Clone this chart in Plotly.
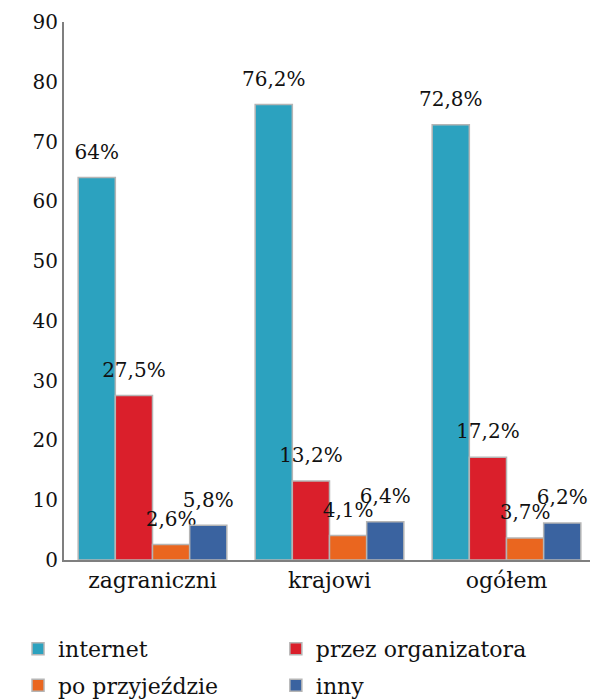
import plotly.graph_objects as go

categories = ["zagraniczni", "krajowi", "ogółem"]
series_names = ["internet", "przez organizatora", "po przyjeździe", "inny"]
internet = [64, 76.2, 72.8]
organizator = [27.5, 13.2, 17.2]
przyjazd = [2.6, 4.1, 3.7]
inny = [5.8, 6.4, 6.2]
labels_internet = ["64%", "76,2%", "72,8%"]
labels_organizator = ["27,5%", "13,2%", "17,2%"]
labels_przyjazd = ["2,6%", "4,1%", "3,7%"]
labels_inny = ["5,8%", "6,4%", "6,2%"]
y_ticks = [0, 10, 20, 30, 40, 50, 60, 70, 80, 90]

colors = ["#2CA2BF", "#DA1F2B", "#EA661F", "#3A63A0"]
legend_ids = ["legend", "legend2", "legend3", "legend4"]
legend_x = [0.017, 0.454, 0.017, 0.454]
legend_y = [0.1027, 0.1027, 0.050, 0.050]
label_gap = 1.8  # gap (in axis units) between bar top and its label
FONT = "DejaVu Serif, serif"

fig = go.Figure()
for i, (name, vals, labs, col, lg) in enumerate(zip(
    series_names,
    [internet, organizator, przyjazd, inny],
    [labels_internet, labels_organizator, labels_przyjazd, labels_inny],
    colors, legend_ids,
)):
    fig.add_trace(go.Bar(
        name=name, x=categories, y=vals, legend=lg, offsetgroup=str(i),
        marker=dict(color=col, line=dict(color="#B5B5B5", width=1.5)),
    ))
    # transparent spacer carrying the value label just above the bar
    fig.add_trace(go.Bar(
        name=name, x=categories, y=[label_gap] * len(vals), base=vals,
        offsetgroup=str(i), showlegend=False, hoverinfo="skip",
        text=labs, textposition="outside", cliponaxis=False,
        constraintext="none", textangle=0,
        textfont=dict(family=FONT, size=20, color="#111"),
        marker=dict(color="rgba(0,0,0,0)", line=dict(width=0)),
    ))

legends = {}
for lg, lx, ly in zip(legend_ids, legend_x, legend_y):
    legends[lg] = dict(
        orientation="h", xref="container", yref="container",
        x=lx, y=ly, xanchor="left", yanchor="top",
        font=dict(family=FONT, size=22, color="#111"),
        itemwidth=30, bgcolor="rgba(0,0,0,0)",
    )

fig.update_layout(
    width=590, height=691,
    barmode="group", bargap=0.16, bargroupgap=0.0,
    plot_bgcolor="white", paper_bgcolor="white",
    margin=dict(l=56, r=3, t=14, b=139),
    font=dict(family=FONT, size=19, color="#111"),
    showlegend=True,
    **legends,
)
fig.update_yaxes(
    range=[0, 90], tickvals=y_ticks, showgrid=False, zeroline=False,
    showline=True, linecolor="#7F7F7F", linewidth=2,
    ticks="", ticklen=0,
    tickfont=dict(family=FONT, size=20, color="#111"),
)
fig.update_xaxes(
    showline=True, linecolor="#7F7F7F", linewidth=2, ticks="",
    tickfont=dict(family=FONT, size=22, color="#111"),
)
fig.write_html("out.html")
